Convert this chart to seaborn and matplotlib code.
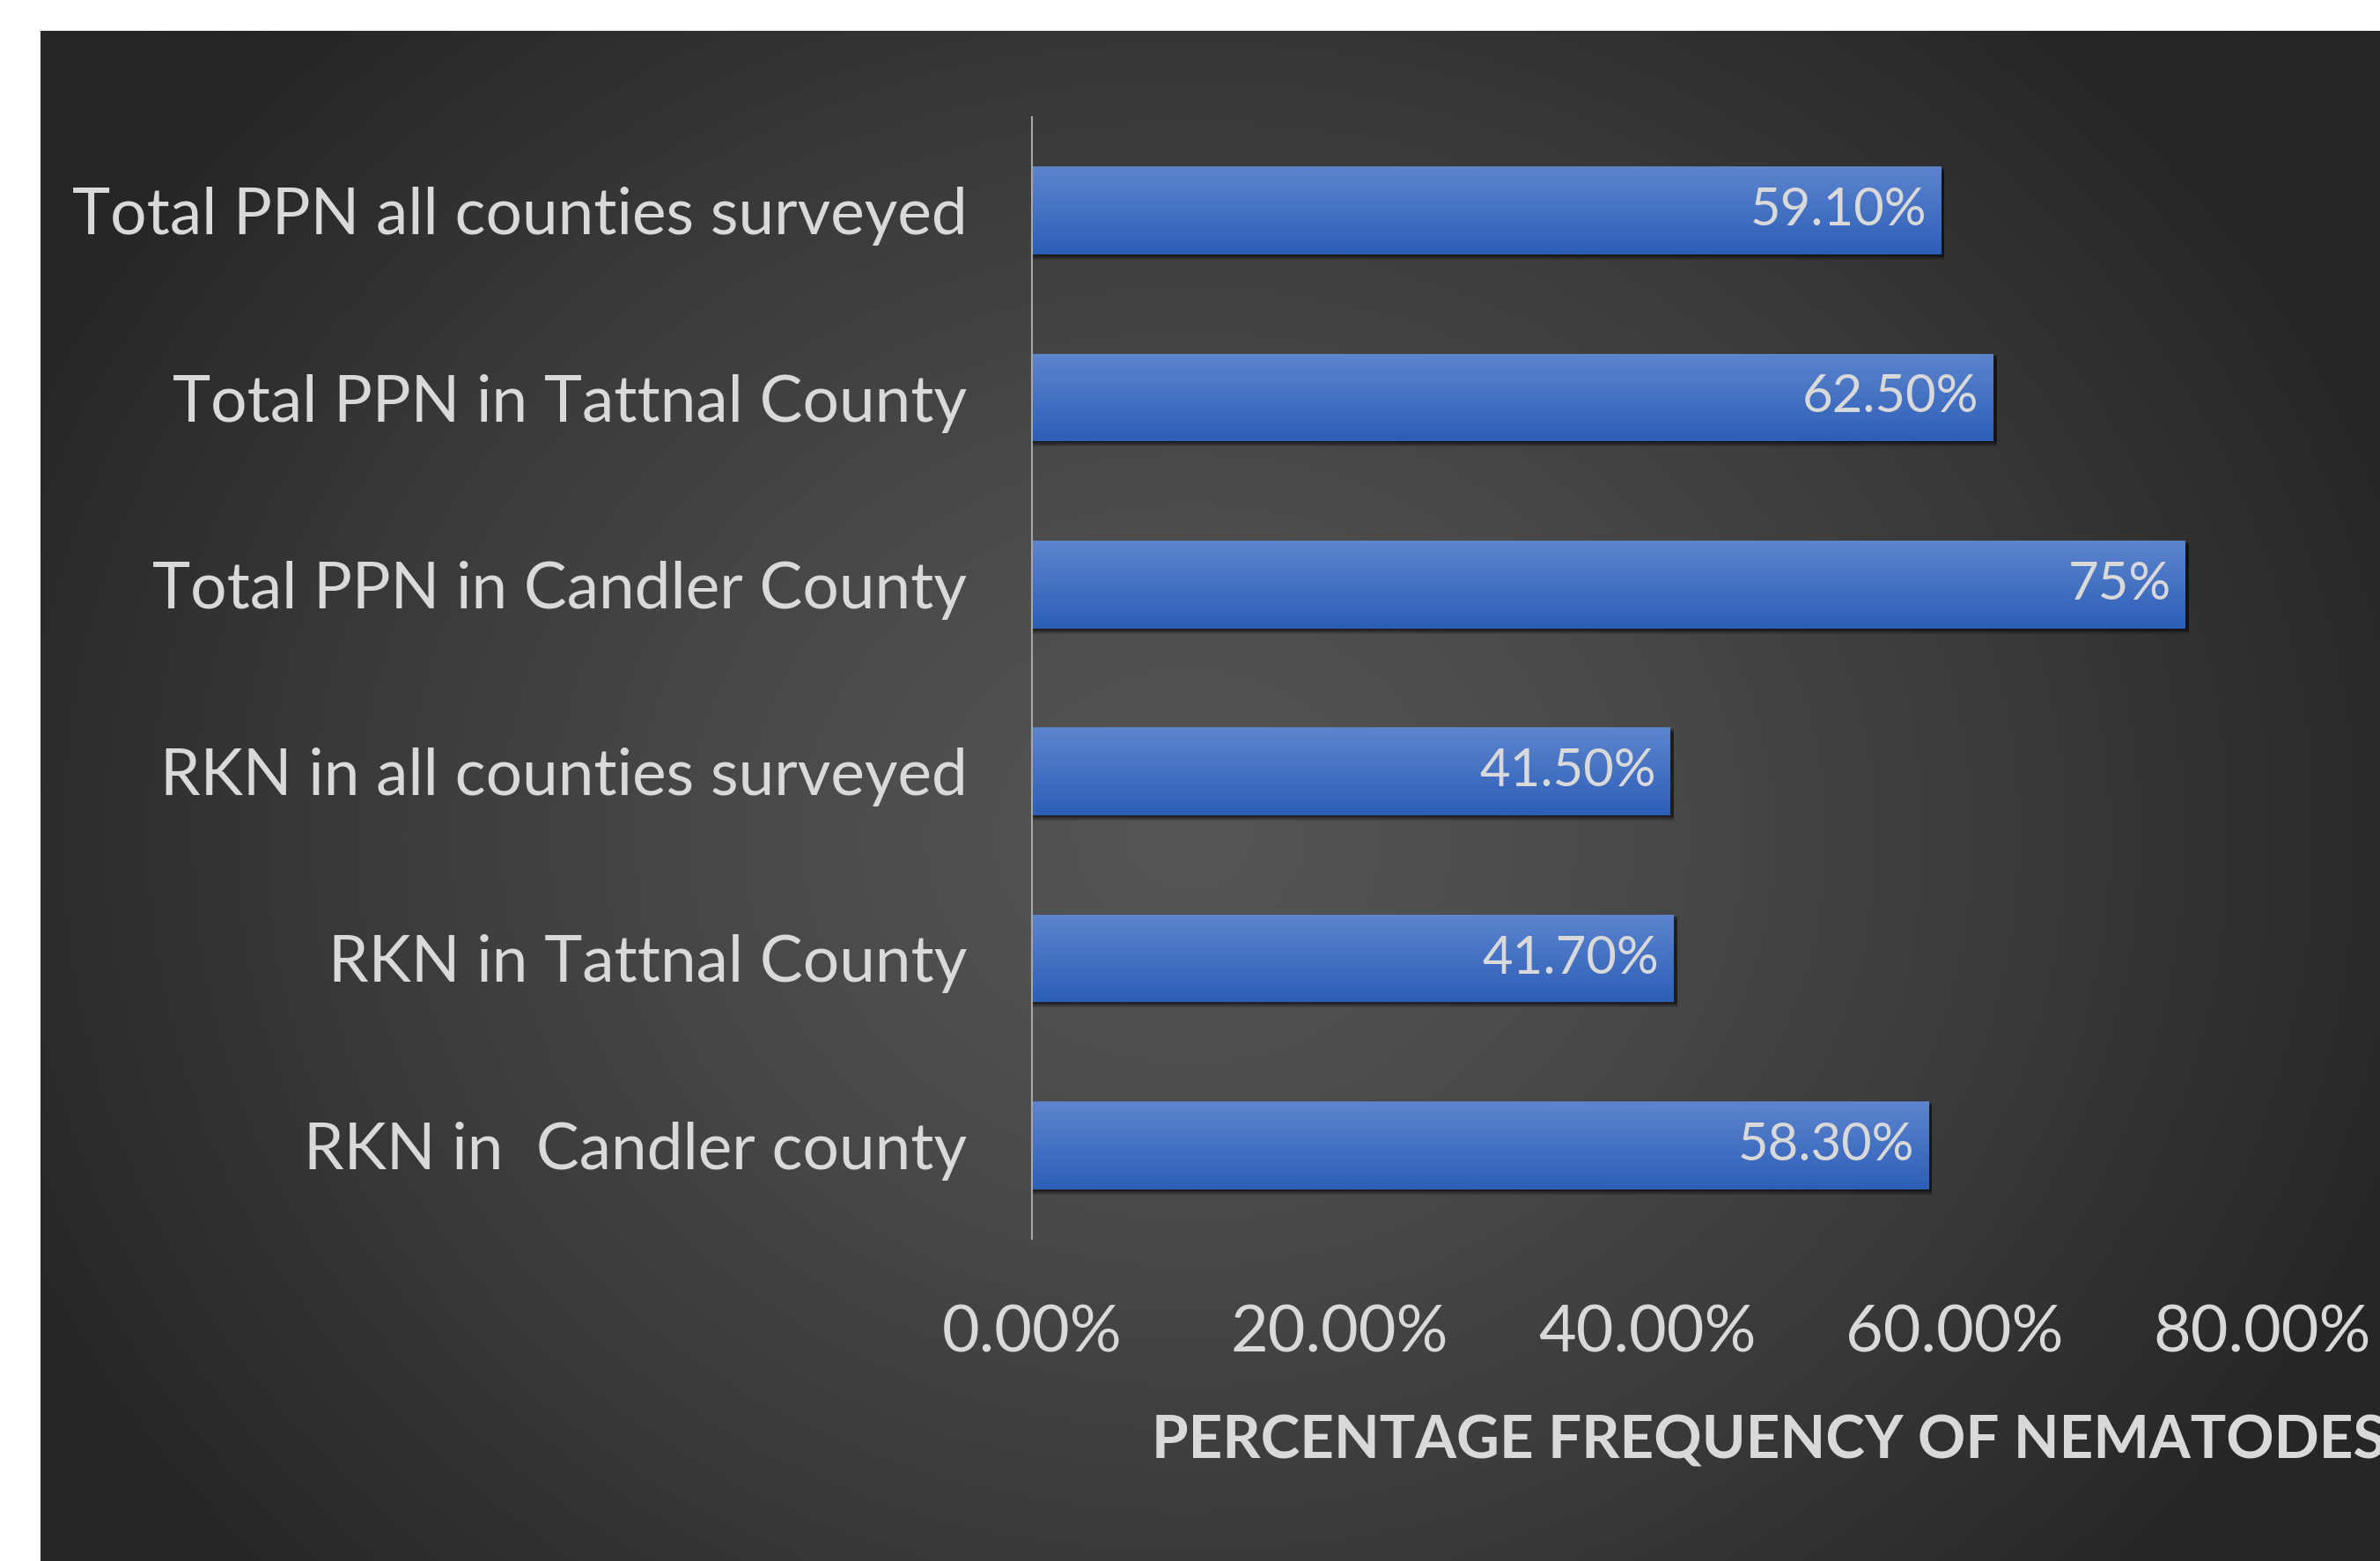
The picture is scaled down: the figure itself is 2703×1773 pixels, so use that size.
import matplotlib
matplotlib.use("Agg")
import matplotlib.pyplot as plt
import matplotlib.patches as patches
from matplotlib.ticker import FuncFormatter
import numpy as np
import seaborn as sns

# data (top to bottom)
categories = [
    "Total PPN all counties surveyed",
    "Total PPN in Tattnal County",
    "Total PPN in Candler County",
    "RKN in all counties surveyed",
    "RKN in Tattnal County",
    "RKN in  Candler county",
]
values = [59.1, 62.5, 75.0, 41.5, 41.7, 58.3]
value_labels = ["59.10%", "62.50%", "75%", "41.50%", "41.70%", "58.30%"]
x_ticks = [0, 20, 40, 60, 80]
x_title = "PERCENTAGE FREQUENCY OF NEMATODES"

sns.set_style("white")
plt.rcParams['font.family'] = ['Lato', 'DejaVu Sans']

W, H = 2703, 1773
fig = plt.figure(figsize=(W / 100, H / 100), dpi=100)
fig.patch.set_facecolor("white")

# dark panel with radial gradient
px0, py_top = 46, 35
bg = fig.add_axes([px0 / W, 0, 1 - px0 / W, 1 - py_top / H])
bg.axis("off")
gx, gy = np.meshgrid(np.linspace(px0, W, 540), np.linspace(py_top, H, 350))
cx, cy = 1350, 950
r = np.sqrt(((gx - cx) / 1450) ** 2 + ((gy - cy) / 1250) ** 2)
shade = 0x55 - (0x55 - 0x26) * np.clip(r, 0, 1) ** 1.3
shade = shade / 255.0
bg.imshow(np.dstack([shade, shade, shade]), extent=(0, 1, 0, 1), aspect="auto",
          interpolation="bilinear")
bg.set_xlim(0, 1)
bg.set_ylim(0, 1)

# plot area
ax = fig.add_axes([1172 / W, 1 - 1407 / H, (2569 - 1172) / W, (1407 - 133) / H])
ax.set_facecolor("none")
sns.barplot(x=values, y=categories, color="#4472c4", width=0.47, orient="h", ax=ax,
            linewidth=0, edgecolor="none")
ax.set_xlim(0, 80)
ylim = ax.get_ylim()

# gradient fill + soft shadow for each bar
grad = np.linspace(0, 1, 64)[:, None]
top_c = np.array([0x5d, 0x85, 0xce]) / 255
bot_c = np.array([0x2d, 0x5e, 0xb8]) / 255
grad_img = (top_c[None, None, :] * (1 - grad[..., None]) + bot_c[None, None, :] * grad[..., None])
for p in list(ax.patches):
    x0, y0 = p.get_x(), p.get_y()
    w, h = p.get_width(), p.get_height()
    ya, yb = min(y0, y0 + h), max(y0, y0 + h)
    p.set_linewidth(0)
    p.set_edgecolor("none")
    for k, a in [(0.028, 0.18), (0.018, 0.25), (0.009, 0.3)]:
        sh = patches.Rectangle((x0, ya + k), w + 0.25, yb - ya, facecolor="black",
                               edgecolor="none", linewidth=0, alpha=a, zorder=1)
        ax.add_patch(sh)
    p.set_zorder(2)
    im = ax.imshow(grad_img, extent=(x0, x0 + w, yb, ya), origin="upper",
                   aspect="auto", zorder=3, interpolation="bilinear")
    im.set_clip_path(p)

ax.set_xlim(0, 80)
ax.set_ylim(ylim)

for i, (v, lab) in enumerate(zip(values, value_labels)):
    ax.text(v - 0.9, i, lab, ha="right", va="center", color="#d9d9d9",
            fontsize=43, zorder=5)

ax.set_xticks(x_ticks)
ax.xaxis.set_major_formatter(FuncFormatter(lambda x, pos: f"{x:.2f}%"))
ax.tick_params(axis="x", length=0, pad=54, labelsize=53, labelcolor="#d9d9d9")
ax.tick_params(axis="y", length=0, pad=53, labelsize=52.6, labelcolor="#d9d9d9")
ax.set_xlabel("")
ax.set_ylabel("")
for s in ["top", "right", "bottom"]:
    ax.spines[s].set_visible(False)
ax.spines["left"].set_color("#a6a6a6")
ax.spines["left"].set_linewidth(1.5)
ax.spines["left"].set_zorder(6)
ax.grid(False)

fig.text(1308 / W, 1 - 1638 / H, x_title, ha="left", va="center", color="#d9d9d9",
         fontsize=48.5, fontweight="bold")

fig.savefig("out.png", dpi=100)
